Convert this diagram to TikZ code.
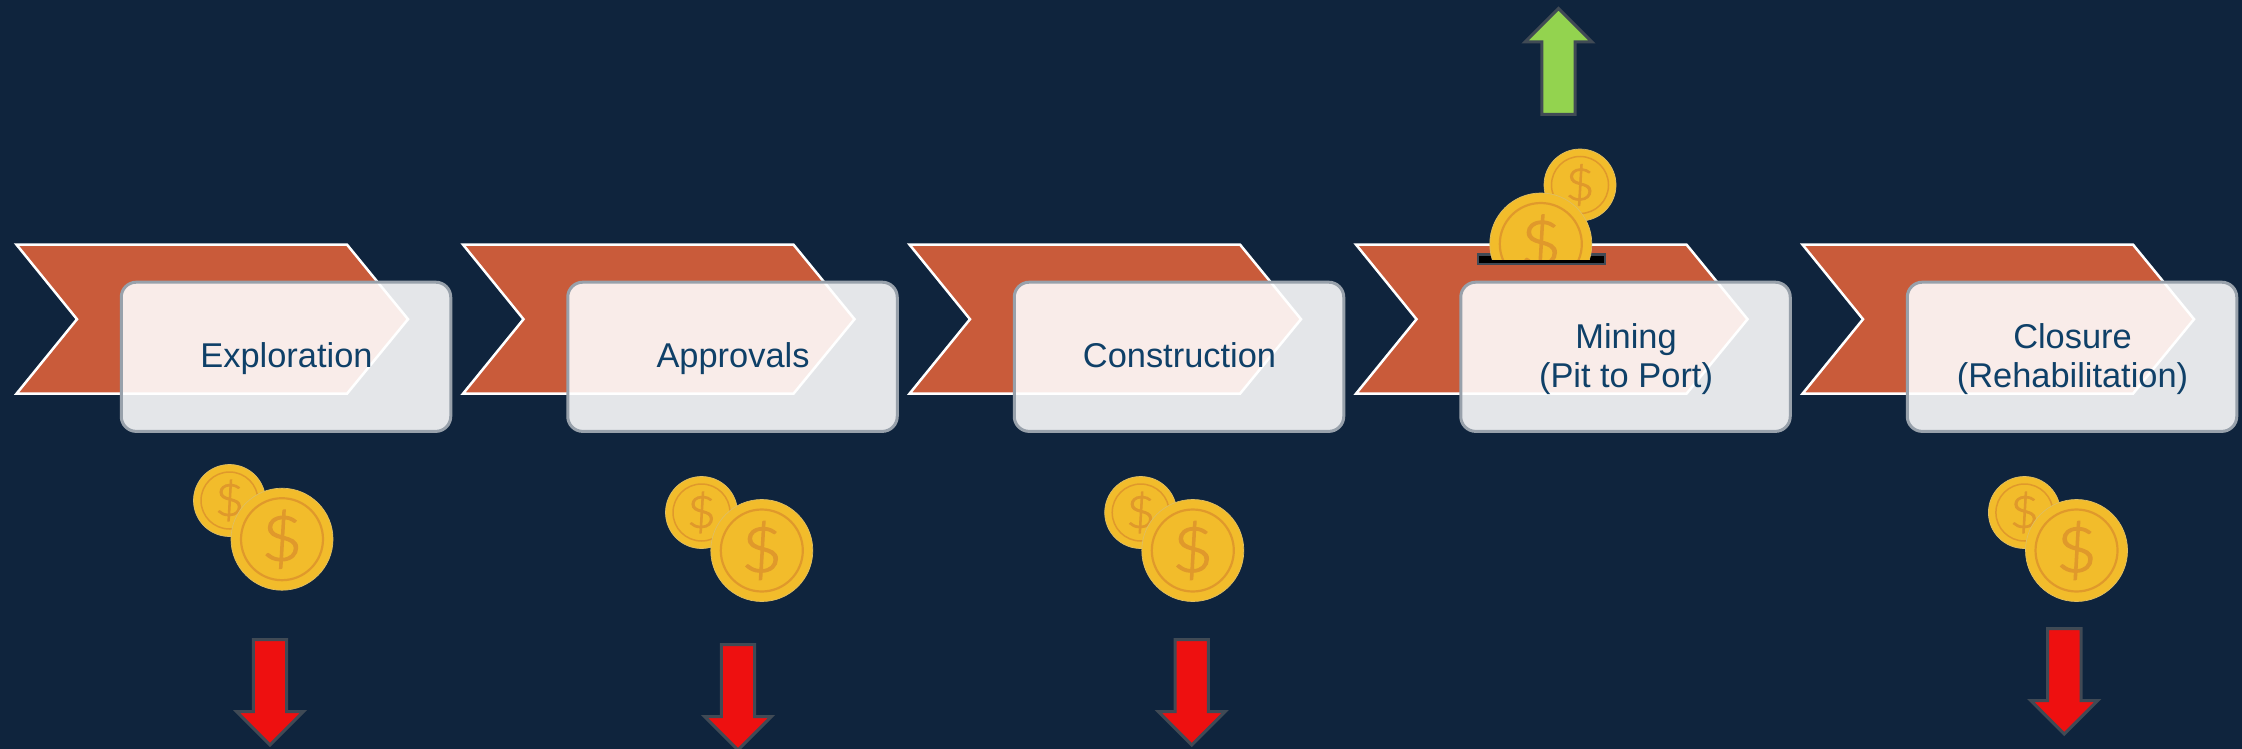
\documentclass[tikz,border=0pt]{standalone}
\usepackage{fontspec}
\setmainfont{Liberation Sans}
\newfontfamily\coinfont[FakeBold=2,FakeStretch=1.15]{Lato Light}
\definecolor{navybg}{HTML}{0F243D}
\definecolor{rustfill}{HTML}{C95B3A}
\definecolor{boxedge}{HTML}{98A1AB}
\definecolor{labelblue}{HTML}{0F4068}
\definecolor{coingold}{HTML}{F2BC2B}
\definecolor{coinedge}{HTML}{E0BE62}
\definecolor{coinmark}{HTML}{E0992B}
\definecolor{arrowedge}{HTML}{404A55}
\definecolor{arrowred}{HTML}{EE1010}
\definecolor{arrowgreen}{HTML}{93D34F}
\tikzset{
	chevronline/.style={draw=white,line width=2.5pt,fill=rustfill,miter limit=10},
	stagebox/.style={draw=boxedge,line width=3pt,fill=white,fill opacity=.89,rounded corners=15pt,
		minimum width=329.5pt,minimum height=149.2pt,inner sep=0pt,outer sep=0pt},
	stagelabel/.style={anchor=base,align=center,text=labelblue,inner sep=0pt,
		font=\fontsize{34.4pt}{38.5pt}\selectfont},
	bigcoin/.style={circle,draw=coinedge,line width=.7pt,fill=coingold,text=coinmark,
		minimum size=102pt,inner sep=0pt,outer sep=0pt,font=\coinfont\fontsize{62pt}{62pt}\selectfont},
	smallcoin/.style={bigcoin,minimum size=72pt,font=\coinfont\fontsize{44pt}{44pt}\selectfont},
	arrowline/.style={draw=arrowedge,line width=3pt,miter limit=10},
}
\begin{document}
\begin{tikzpicture}[x=1pt,y=-1pt]
	\useasboundingbox (0,0) rectangle (2242,749);
	\fill[navybg] (0,0) rectangle (2242,749);
	
	% chevrons
	\foreach \i in {0,...,4}{
		\draw[chevronline,xshift=\i*446.5pt] (16.5,244.6) -- (347,244.6) -- (408,319.2) -- (347,393.7)
			-- (16.5,393.7) -- (77,319.2) -- cycle;
	}
	
	% slot and coins on mining
	\draw[arrowedge,line width=2.5pt,fill=black] (1478,254.5) rectangle (1605,264);
	\node[smallcoin] (smalld) at (1580,185) {\$};
	\draw[coinmark,line width=1.5pt] (smalld.center) circle (28.5);
	\begin{scope}
		\clip (1480,100) rectangle (1610,259);
		\node[bigcoin] (bigd) at (1540.8,244) {\$};
		\draw[coinmark,line width=2.2pt] (bigd.center) circle (41);
	\end{scope}
	
	% boxes
	\foreach \n/\x in {a/286, b/732.5, c/1179, d/1625.5, e/2072}{
		\node[stagebox] (box\n) at (\x,356.8) {};
	}
	
	% labels
	\node[stagelabel] (laba) at (286.5,367.4) {Exploration};
	\node[stagelabel] (labb) at (733,367.4) {Approvals};
	\node[stagelabel] (labc) at (1179.5,367.4) {Construction};
	\node[stagelabel] (labd) at (1626,387.2) {Mining\\(Pit to Port)};
	\node[stagelabel] (labe) at (2072.5,387.2) {Closure\\(Rehabilitation)};
	
	% coins below
	\foreach \n/\sx/\sy/\bx/\by in
	{a/229.5/500.5/282/539.2, b/701.5/512.5/761.8/550.5, c/1140.7/512.5/1192.8/550.5, e/2024.4/512.5/2076.5/550.5}{
		\node[smallcoin] (small\n) at (\sx,\sy) {\$};
		\draw[coinmark,line width=1.5pt] (small\n.center) circle (28.5);
		\node[bigcoin] (big\n) at (\bx,\by) {\$};
		\draw[coinmark,line width=2.2pt] (big\n.center) circle (41);
	}
	
	% down arrows
	\foreach \x/\y in {270/639.5, 738/644.5, 1191.7/639.5, 2064.3/628.5}{
		\draw[arrowline,fill=arrowred] (\x,\y) ++(-16.7,0) -- ++(33.4,0) -- ++(0,72) -- ++(16.8,0)
			-- ++(-33.5,33.5) -- ++(-33.5,-33.5) -- ++(16.8,0) -- cycle;
	}
	
	% up arrow
	\draw[arrowline,fill=arrowgreen] (1558.5,114.5) ++(-16.7,0) -- ++(33.4,0) -- ++(0,-72.5) -- ++(16.8,0)
		-- ++(-33.5,-33.5) -- ++(-33.5,33.5) -- ++(16.8,0) -- cycle;
\end{tikzpicture}
\end{document}
